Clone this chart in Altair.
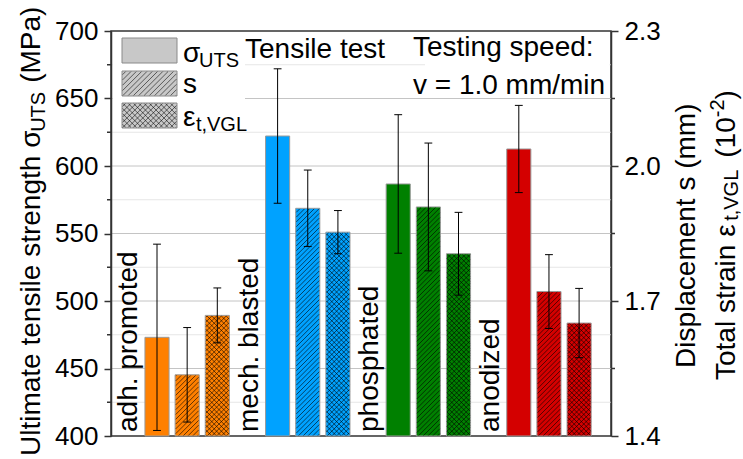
import math
import altair as alt
import pandas as pd

# ---------------- data ----------------
groups = ["adh. promoted", "mech. blasted", "phosphated", "anodized"]
colors = ["#FF8000", "#00A2FF", "#008000", "#D40000"]
uts = [473.1, 622.2, 586.7, 612.6]            # MPa
uts_err = [69.0, 49.8, 51.3, 32.3]
disp = [1.536, 1.906, 1.909, 1.721]           # mm
disp_err = [0.105, 0.085, 0.142, 0.082]
strain = [1.668, 1.853, 1.805, 1.651]         # 10^-2
strain_err = [0.061, 0.048, 0.092, 0.077]

left_ticks = [400, 450, 500, 550, 600, 650, 700]
left_minor = [425, 475, 525, 575, 625, 675]
right_ticks = [1.4, 1.7, 2.0, 2.3]
right_minor = [1.55, 1.85, 2.15]

# ---------------- layout ----------------
W, H = 500, 405
PAD_L, PAD_T = 111, 31
SLOT = 30.15                 # px per bar slot
XMAX = W / SLOT
YL = [400, 700]
YR = [1.4, 2.3]
HALF = 0.4                   # half bar width (slots)
FIRST = 1.526                # centre of the first bar in a group (slots)
FONT = "Liberation Sans"
FS = 28
FS_SUB = 20
HATCH = 4.8                  # hatch spacing (px)

sX = alt.Scale(domain=[0, XMAX], nice=False, zero=False)
sL = alt.Scale(domain=YL, nice=False, zero=False)
sR = alt.Scale(domain=YR, nice=False, zero=False)

# approximate advance widths (em) used to chain text pieces
ADV = {'U': .722, 'l': .222, 't': .278, 'i': .222, 'm': .833, 'a': .556, 'e': .556,
       ' ': .278, 'n': .556, 's': .5, 'r': .333, 'g': .556, 'h': .556, 'σ': .572,
       'T': .611, 'S': .667, '(': .333, ')': .333, 'M': .833, 'P': .667, 'D': .722,
       'p': .556, 'c': .5, 'o': .556, 'ε': .46, ',': .278, 'V': .667, 'G': .778,
       'L': .556, '1': .556, '0': .556, '-': .333, '2': .556, 'd': .556}


def tw(s, size):
    return sum(ADV.get(ch, .556) for ch in s) * size


def hatch(xl, xr, yb, yt, step, sign):
    """Clip 45-degree lines to a rectangle (px, y pointing up)."""
    segs = []
    if sign > 0:
        cmin, cmax = yb - xr, yt - xl
    else:
        cmin, cmax = yb + xl, yt + xr
    k = math.ceil(cmin / step)
    while k * step <= cmax:
        c = k * step
        if sign > 0:
            a, b = max(xl, yb - c), min(xr, yt - c)
            if b - a > 0.3:
                segs.append((a, a + c, b, b + c))
        else:
            a, b = max(xl, c - yt), min(xr, c - yb)
            if b - a > 0.3:
                segs.append((a, c - a, b, c - b))
        k += 1
    return segs


def to_up(v, dom):
    return (v - dom[0]) / (dom[1] - dom[0]) * H


def from_up(u, dom):
    return dom[0] + u / H * (dom[1] - dom[0])


# ---------------- tables ----------------
rows_l, rows_r = [], []
for g in range(len(groups)):
    base = 4 * g + FIRST
    rows_l.append(dict(c=base, v=uts[g], e=uts_err[g], col=colors[g], kind=0))
    rows_r.append(dict(c=base + 1, v=disp[g], e=disp_err[g], col=colors[g], kind=1))
    rows_r.append(dict(c=base + 2, v=strain[g], e=strain_err[g], col=colors[g], kind=2))
df_l = pd.DataFrame(rows_l)
df_r = pd.DataFrame(rows_r)
for df, dom in ((df_l, YL), (df_r, YR)):
    df["x0"] = df["c"] - HALF
    df["x1"] = df["c"] + HALF
    df["b"] = dom[0]
    df["lo"] = df["v"] - df["e"]
    df["hi"] = df["v"] + df["e"]

# hatch segments of displacement / strain bars
hrows = []
for _, r in df_r.iterrows():
    xl, xr = r.x0 * SLOT + 0.6, r.x1 * SLOT - 0.6
    yt = to_up(r.v, YR) - 0.6
    signs = [1] if r.kind == 1 else [1, -1]
    for sg in signs:
        for (a, ya, b, yb) in hatch(xl, xr, 0.5, yt, HATCH, sg):
            hrows.append(dict(x1=a / SLOT, x2=b / SLOT,
                              y1=from_up(ya, YR), y2=from_up(yb, YR)))
df_h = pd.DataFrame(hrows)

# error bar caps
cap_rows = []
for df, tag in ((df_l, "L"), (df_r, "R")):
    for _, r in df.iterrows():
        for yv in (r.lo, r.hi):
            cap_rows.append(dict(a=r.c - 0.13, b=r.c + 0.13, y=yv, ax=tag))
df_caps = pd.DataFrame(cap_rows)

# legend swatches (plot px, y down)
sw_x0, sw_x1 = 11, 66
sw_y = [(7, 32), (40, 65), (72, 97)]
leg_rows = []
for i, (y0, y1) in enumerate(sw_y):
    signs = [] if i == 0 else ([1] if i == 1 else [1, -1])
    for sg in signs:
        for (a, ya, b, yb) in hatch(sw_x0 + 0.6, sw_x1 - 0.6, H - y1 + 0.6, H - y0 - 0.6, 5.3, sg):
            leg_rows.append(dict(x1=a / SLOT, x2=b / SLOT,
                                 y1=from_up(ya, YL), y2=from_up(yb, YL)))
df_leg = pd.DataFrame(leg_rows)
df_sw = pd.DataFrame([dict(x0=sw_x0 / SLOT, x1=sw_x1 / SLOT,
                           y0=from_up(H - y1, YL), y1=from_up(H - y0, YL))
                      for (y0, y1) in sw_y])

df_grid = pd.DataFrame(dict(v=left_minor + left_ticks[1:-1]))
df_grid["gc"] = ["#e6e6e6"] * len(left_minor) + ["#c4c4c4"] * (len(left_ticks) - 2)
df_lbl = pd.DataFrame(dict(g=groups, lx=[4 * i + 0.86 for i in range(len(groups))]))
one = pd.DataFrame({"k": [0]})

# ---------------- layers ----------------
X = lambda f: alt.X(f, scale=sX, axis=None)
YLn = lambda f: alt.Y(f, scale=sL, axis=None)
YRn = lambda f: alt.Y(f, scale=sR, axis=None)

grid = alt.Chart(df_grid).mark_rule(strokeWidth=1).encode(
    x=alt.value(0), x2=alt.value(W), y=YLn("v:Q"), color=alt.Color("gc:N", scale=None))


def box(x0, x1, y0, y1):
    return alt.Chart(one).mark_rect(fill="white").encode(
        x=alt.value(x0), x2=alt.value(x1), y=alt.value(y0), y2=alt.value(y1))


axL = alt.Axis(values=left_ticks, orient="left", tickSize=7, tickWidth=1.5, tickColor="#333",
               domainColor="#333", domainWidth=1.5, labelFont=FONT, labelFontSize=26,
               labelColor="black", labelPadding=6, title=None, grid=False, zindex=1)
axR = alt.Axis(values=right_ticks, orient="right", format=".1f", tickSize=7, tickWidth=1.5,
               tickColor="#333", domainColor="#333", domainWidth=1.5, labelFont=FONT,
               labelFontSize=26, labelColor="black", labelPadding=6, title=None, grid=False,
               zindex=1)

bars_l = alt.Chart(df_l).mark_bar(stroke="#9a9a9a", strokeWidth=1).encode(
    x=X("x0:Q"), x2="x1:Q", y=alt.Y("v:Q", scale=sL, axis=axL), y2="b:Q",
    fill=alt.Fill("col:N", scale=None))
bars_r = alt.Chart(df_r).mark_bar(stroke="#9a9a9a", strokeWidth=1).encode(
    x=X("x0:Q"), x2="x1:Q", y=alt.Y("v:Q", scale=sR, axis=axR), y2="b:Q",
    fill=alt.Fill("col:N", scale=None))
hatch_r = alt.Chart(df_h).mark_rule(color="black", strokeWidth=0.7, opacity=0.85).encode(
    x=X("x1:Q"), x2="x2:Q", y=YRn("y1:Q"), y2="y2:Q")

err_l = alt.Chart(df_l).mark_rule(color="black", strokeWidth=1).encode(
    x=X("c:Q"), y=YLn("lo:Q"), y2="hi:Q")
err_r = alt.Chart(df_r).mark_rule(color="black", strokeWidth=1).encode(
    x=X("c:Q"), y=YRn("lo:Q"), y2="hi:Q")
caps_l = alt.Chart(df_caps[df_caps.ax == "L"]).mark_rule(color="black", strokeWidth=1).encode(
    x=X("a:Q"), x2="b:Q", y=YLn("y:Q"))
caps_r = alt.Chart(df_caps[df_caps.ax == "R"]).mark_rule(color="black", strokeWidth=1).encode(
    x=X("a:Q"), x2="b:Q", y=YRn("y:Q"))

minor_l = alt.Chart(pd.DataFrame(dict(v=left_minor))).mark_rule(
    color="#333", strokeWidth=1.5).encode(x=alt.value(-4), x2=alt.value(0), y=YLn("v:Q"))
minor_r = alt.Chart(pd.DataFrame(dict(v=right_minor))).mark_rule(
    color="#333", strokeWidth=1.5).encode(x=alt.value(W), x2=alt.value(W + 4), y=YRn("v:Q"))

sw = alt.Chart(df_sw).mark_rect(fill="#c8c8c8", stroke="#8a8a8a", strokeWidth=1).encode(
    x=X("x0:Q"), x2="x1:Q", y=YLn("y0:Q"), y2="y1:Q")
leg_h = alt.Chart(df_leg).mark_rule(color="black", strokeWidth=0.7, opacity=0.8).encode(
    x=X("x1:Q"), x2="x2:Q", y=YLn("y1:Q"), y2="y2:Q")

labels = alt.Chart(df_lbl).mark_text(
    angle=270, align="left", baseline="alphabetic", fontSize=FS, font=FONT, color="black"
).encode(x=X("lx:Q"), y=alt.value(H - 4), text="g:N")


def txt(s, x, y, size=FS, angle=0):
    return alt.Chart(one).mark_text(
        text=s, fontSize=size, font=FONT, angle=angle, align="left",
        baseline="alphabetic", color="black").encode(x=alt.value(x), y=alt.value(y))


def vtitle(pieces, x, y):
    """Chain rotated text pieces upward: (text, size, baseline shift, gap before)."""
    out = []
    for s, size, dx, gap in pieces:
        y -= gap
        out.append(txt(s, x + dx, y, size, 270))
        y -= tw(s, size)
    return out


texts = [
    txt("Tensile test", 134, 27),
    txt("Testing speed:", 302, 25),
    txt("v = 1.0 mm/min", 302, 63),
    txt("σ", 72, 31), txt("UTS", 72 + tw("σ", FS), 36, FS_SUB),
    txt("s", 72, 62),
    txt("ε", 72, 95), txt("t,VGL", 72 + tw("ε", FS), 100, FS_SUB),
]
texts += vtitle([("Ultimate tensile strength σ", FS, 0, 0), ("UTS", FS_SUB, 5, 0),
                 ("(MPa)", FS, 0, 9)], -71, 425)
texts += vtitle([("Displacement s (mm)", FS, 0, 0)], 584, 337)
texts += vtitle([("Total strain ε", FS, 0, 0), ("t,VGL", FS_SUB, 3, 0), ("(10", FS, 0, 12),
                 ("-2", FS_SUB, -11, 0), (")", FS, 0, 0)], 624, 349)

layers = [grid, box(1.5, 134, 1.5, 99), box(314, W - 1.5, 1.5, 64),
          bars_l, bars_r, hatch_r, err_l, err_r, caps_l, caps_r,
          minor_l, minor_r, sw, leg_h, labels] + texts

chart = alt.layer(*layers).resolve_scale(x="independent", y="independent").properties(
    width=W, height=H,
    autosize=alt.AutoSizeParams(type="none"),
    padding={"left": PAD_L, "top": PAD_T, "right": 743 - PAD_L - W, "bottom": 459 - PAD_T - H},
).configure_view(stroke="#333", strokeWidth=1.5)

chart.save("out.html", embed_options={"renderer": "svg", "actions": False})
